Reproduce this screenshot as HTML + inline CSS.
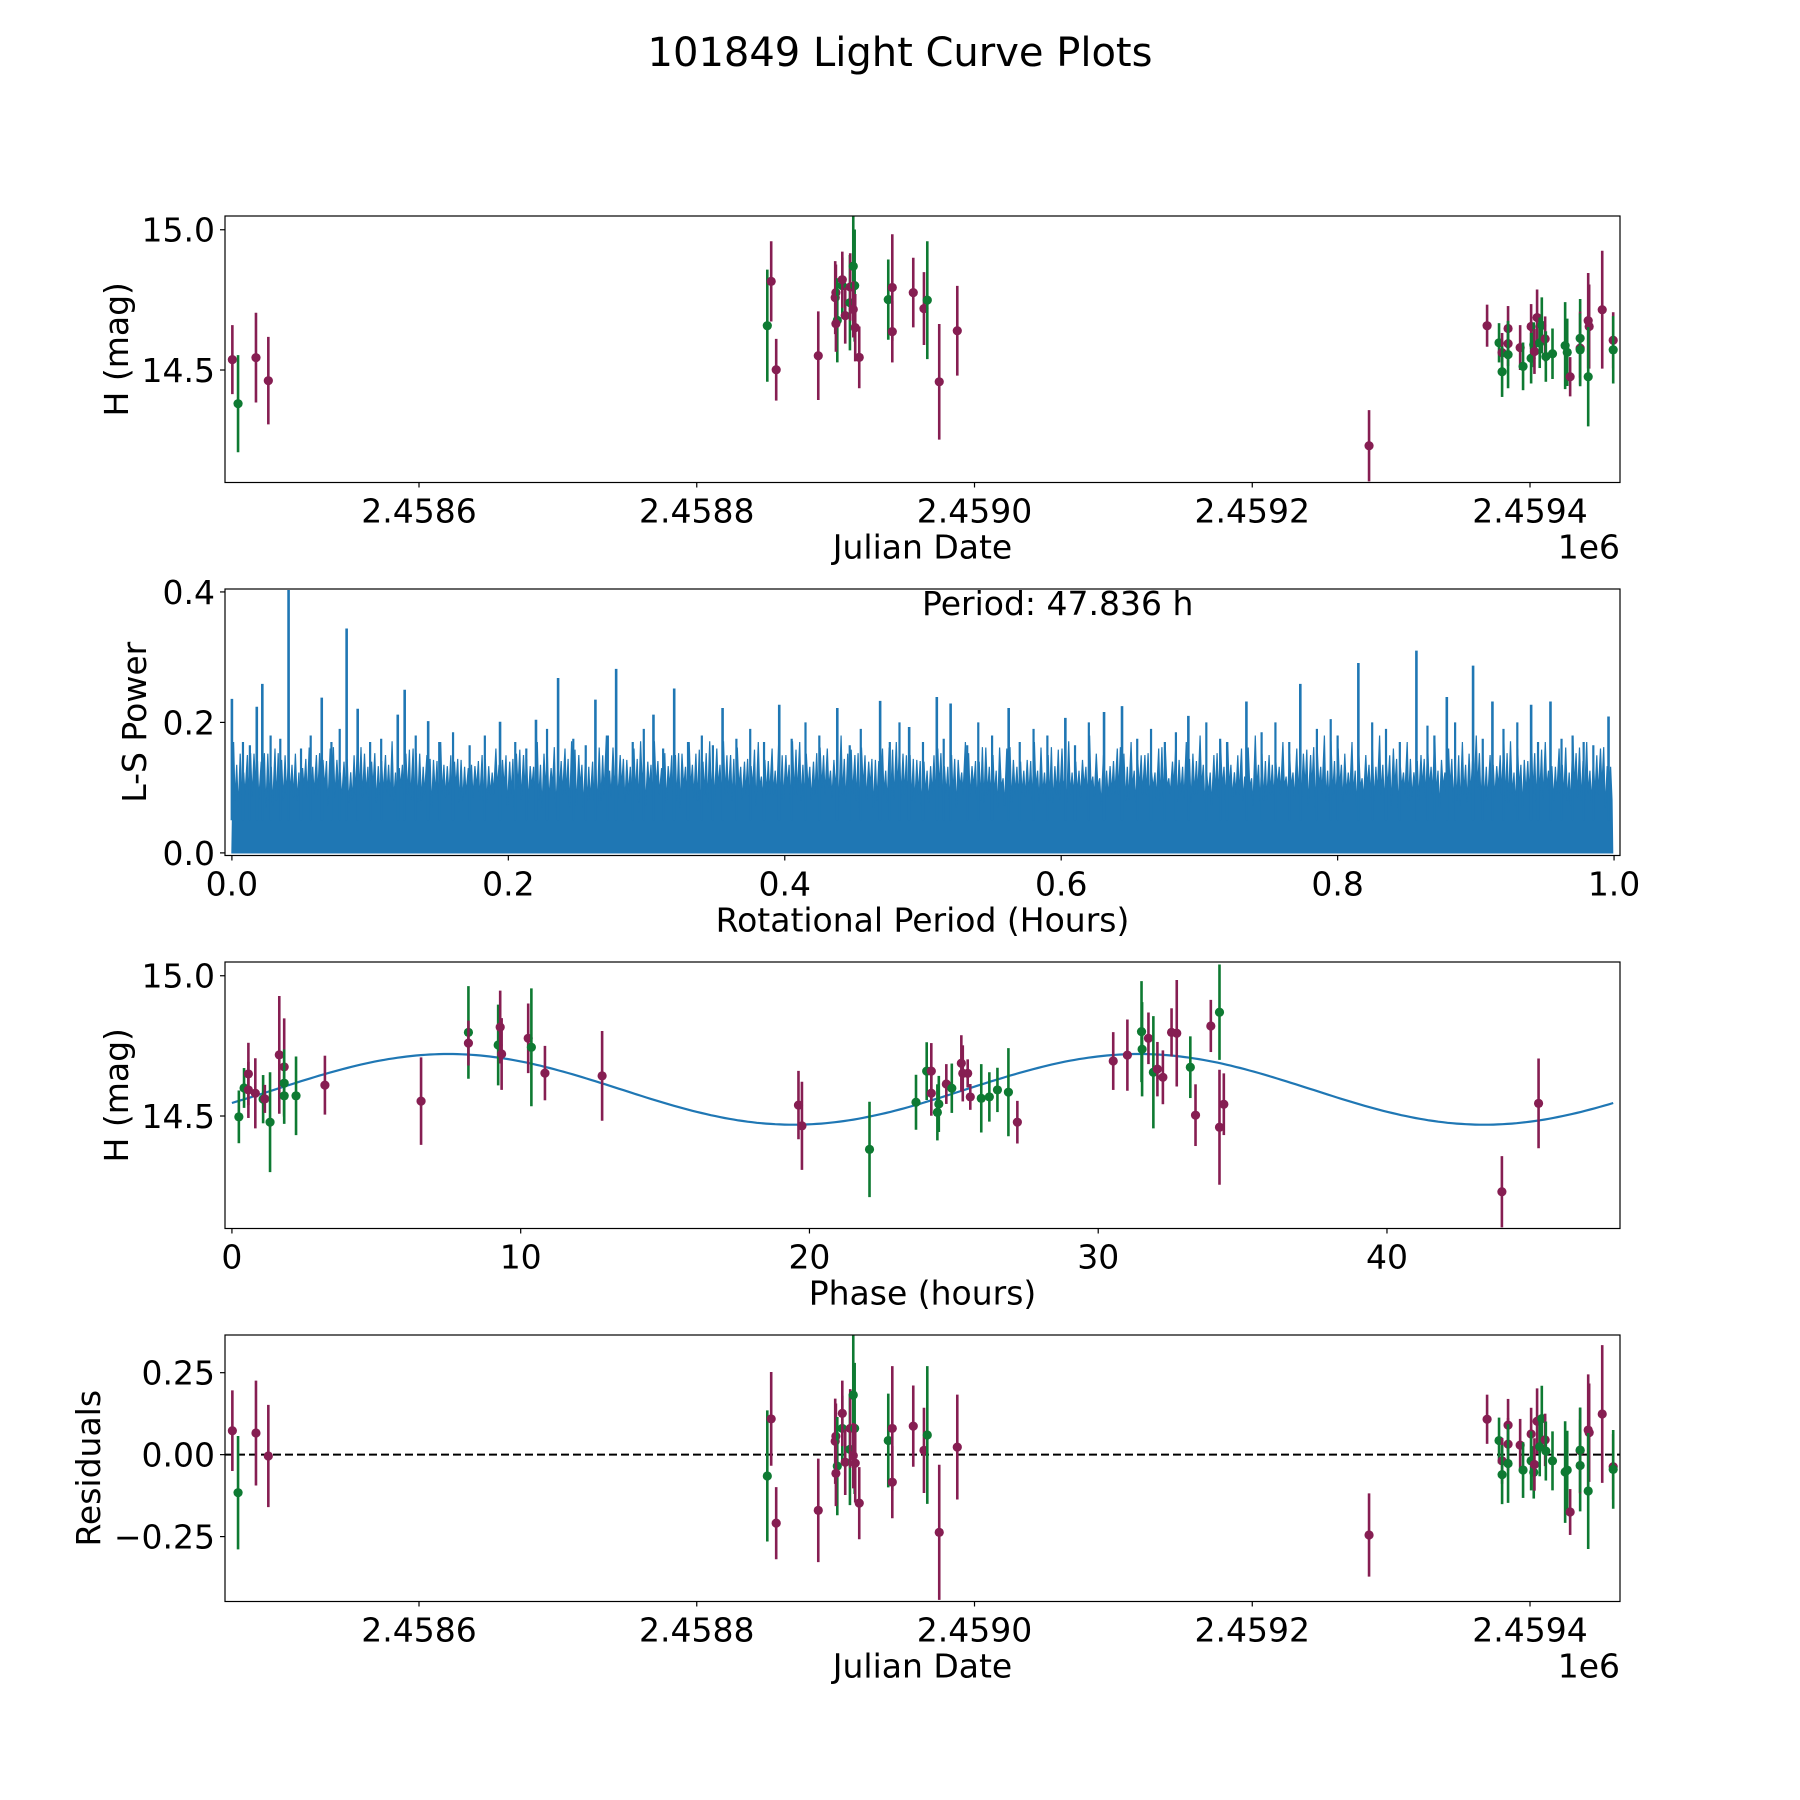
<!DOCTYPE html>
<html><head><meta charset="utf-8"><style>
html,body{margin:0;padding:0;background:#fff}
svg{display:block;font-family:"DejaVu Sans","Liberation Sans",sans-serif}
</style></head><body>
<svg id="fig" width="1800" height="1800" viewBox="0 0 1800 1800" xmlns="http://www.w3.org/2000/svg">
<rect width="1800" height="1800" fill="#fff"/>
<text x="900" y="66" font-size="40" text-anchor="middle">101849 Light Curve Plots</text>
<defs>
<clipPath id="c1"><rect x="225" y="216" width="1395" height="266.5"/></clipPath>
<clipPath id="c2"><rect x="225" y="589" width="1395" height="266.5"/></clipPath>
<clipPath id="c3"><rect x="225" y="962" width="1395" height="266.5"/></clipPath>
<clipPath id="c4"><rect x="225" y="1335" width="1395" height="266.5"/></clipPath>
</defs>
<g id="root"></g>
</svg>
<script>
// ---- light-curve data (panel 1 & residuals) ----
const jd = [2458465.6,2458469.7,2458482.6,2458491.5,
2458850.8,2458853.6,2458857.2,2458887.5,2458899.7,2458900.2,2458901.2,2458900.2,2458904.8,2458904.8,2458906.9,2458910.3,2458910.5,2458912.7,2458913.7,2458912.7,2458914.1,2458917.0,2458937.9,2458940.8,2458940.8,2458955.9,2458963.6,2458966.0,2458974.6,2458987.6,
2459284.1,
2459369.1,2459377.7,2459379.9,2459379.9,2459384.2,2459384.2,2459384.2,2459392.9,2459395.0,2459400.8,2459400.8,2459402.7,2459403.2,2459405.1,2459407.0,2459408.5,2459410.9,2459411.4,2459416.2,2459425.3,2459426.8,2459428.9,2459436.1,2459436.1,2459436.1,2459441.9,2459442.6,2459441.9,2459452.0,2459459.9,2459459.9];
const mag = [14.537,14.380,14.544,14.462,
14.658,14.816,14.501,14.551,14.758,14.776,14.677,14.665,14.801,14.822,14.694,14.740,14.796,14.870,14.801,14.716,14.651,14.545,14.751,14.794,14.637,14.776,14.719,14.749,14.458,14.640,
14.230,
14.658,14.597,14.562,14.494,14.648,14.594,14.555,14.580,14.513,14.655,14.542,14.590,14.566,14.687,14.597,14.659,14.611,14.548,14.558,14.587,14.563,14.476,14.613,14.578,14.572,14.676,14.655,14.476,14.715,14.606,14.572];
const magErr = [0.123,0.173,0.16,0.156,
0.2,0.143,0.11,0.158,0.13,0.1,0.15,0.1,0.1,0.1,0.1,0.17,0.12,0.2,0.2,0.1,0.12,0.11,0.143,0.19,0.11,0.124,0.13,0.21,0.206,0.16,
0.127,
0.075,0.07,0.07,0.09,0.08,0.08,0.12,0.08,0.085,0.08,0.09,0.08,0.08,0.1,0.09,0.1,0.08,0.09,0.09,0.155,0.12,0.07,0.14,0.13,0.13,0.17,0.15,0.177,0.21,0.1,0.12];
const band = ['m','g','m','m',
'g','m','m','m','m','m','g','m','g','m','m','g','m','g','g','m','m','m','g','m','m','m','m','g','m','m',
'm',
'm','g','m','g','m','m','g','m','g','m','g','g','m','m','g','g','m','g','g','g','g','m','g','m','g','m','m','g','m','m','g'];
const resid = [0.073,-0.116,0.066,-0.004,
-0.065,0.109,-0.209,-0.17,0.041,0.056,-0.035,-0.057,0.08,0.126,-0.023,0.016,0.08,0.182,0.08,-0.003,-0.026,-0.148,0.043,0.08,-0.084,0.087,0.013,0.06,-0.237,0.023,
-0.245,
0.108,0.043,-0.019,-0.061,0.09,0.032,-0.027,0.029,-0.047,0.063,-0.019,-0.054,-0.03,0.102,0.024,0.11,0.045,0.011,-0.019,-0.053,-0.047,-0.175,-0.033,0.012,0.014,0.075,0.067,-0.111,0.124,-0.037,-0.045];
// ---- phased data (panel 3) ----
const phase = [0.24,0.42,0.57,0.57,0.81,1.08,1.14,1.32,1.64,1.81,1.81,1.81,2.22,3.22,6.55,8.19,8.19,9.22,9.29,9.34,10.26,10.37,10.84,12.82,
19.62,19.74,22.08,23.69,24.06,24.22,24.22,24.48,24.43,24.74,24.93,25.26,25.31,25.48,25.57,25.95,26.23,26.51,26.89,27.2,
30.52,31.01,31.5,31.52,31.74,31.91,32.05,32.24,32.54,32.72,33.19,33.37,33.9,34.2,34.2,34.35,43.98,45.25];
const phMag = [14.497,14.600,14.650,14.593,14.581,14.56,14.561,14.478,14.718,14.675,14.617,14.572,14.572,14.61,14.553,14.798,14.76,14.753,14.817,14.721,14.777,14.745,14.653,14.643,
14.539,14.465,14.381,14.549,14.66,14.66,14.581,14.543,14.513,14.614,14.599,14.688,14.652,14.652,14.568,14.563,14.568,14.593,14.585,14.478,
14.696,14.717,14.801,14.738,14.777,14.656,14.667,14.638,14.798,14.795,14.674,14.503,14.821,14.87,14.46,14.542,14.23,14.545];
const phErr = [0.094,0.071,0.111,0.1,0.125,0.086,0.05,0.178,0.21,0.173,0.12,0.1,0.14,0.105,0.156,0.165,0.08,0.144,0.13,0.128,0.124,0.21,0.097,0.16,
0.122,0.157,0.17,0.098,0.103,0.1,0.08,0.1,0.1,0.071,0.088,0.1,0.1,0.05,0.046,0.122,0.088,0.079,0.157,0.076,
0.103,0.127,0.18,0.168,0.092,0.2,0.097,0.096,0.086,0.19,0.11,0.11,0.093,0.17,0.205,0.11,0.127,0.16];
const phBand = ['g','g','m','m','m','g','m','g','m','m','g','g','g','m','m','g','m','g','m','m','m','g','m','m',
'm','m','g','g','g','m','m','g','g','m','g','m','m','m','m','g','g','g','g','m',
'm','m','g','g','m','g','m','m','m','m','g','m','m','g','m','m','m','m'];
// model fit parameters
const modelMean = 14.595, modelAmp = 0.126, modelPeak = 7.49, period = 47.836;
// ---- periodogram (panel 2) ----
const spikePeriod = [0.0,0.018,0.022,0.041,0.065,0.083,0.091,0.12,0.125,0.142,0.194,0.22,0.236,0.263,0.278,0.305,0.32,0.355,0.396,0.438,0.469,0.49,0.51,0.52,0.562,0.603,0.631,0.644,0.692,0.734,0.773,0.815,0.857,0.879,0.898,0.912,0.94,0.954,0.996];
const spikePower = [0.236,0.224,0.259,0.403,0.238,0.344,0.221,0.212,0.25,0.202,0.201,0.204,0.268,0.235,0.282,0.212,0.252,0.222,0.227,0.222,0.233,0.193,0.239,0.229,0.222,0.207,0.216,0.225,0.21,0.232,0.259,0.291,0.31,0.239,0.287,0.232,0.227,0.232,0.209];
const midPeriod = [0.008,0.013,0.028,0.035,0.05,0.057,0.072,0.078,0.1,0.108,0.133,0.15,0.16,0.172,0.183,0.205,0.213,0.228,0.247,0.256,0.272,0.29,0.298,0.312,0.33,0.34,0.348,0.365,0.375,0.385,0.405,0.415,0.425,0.447,0.455,0.476,0.483,0.5,0.515,0.532,0.54,0.55,0.57,0.58,0.59,0.61,0.62,0.655,0.665,0.675,0.683,0.705,0.715,0.72,0.745,0.755,0.765,0.785,0.795,0.8,0.825,0.835,0.845,0.865,0.87,0.885,0.905,0.92,0.93,0.945,0.962,0.97,0.978,0.985];
const midPower = [0.17,0.165,0.18,0.175,0.16,0.18,0.17,0.19,0.17,0.175,0.18,0.17,0.185,0.165,0.18,0.17,0.16,0.19,0.175,0.165,0.18,0.17,0.19,0.16,0.17,0.18,0.165,0.175,0.19,0.17,0.175,0.2,0.18,0.165,0.19,0.17,0.2,0.17,0.175,0.165,0.2,0.18,0.17,0.19,0.18,0.165,0.2,0.175,0.19,0.17,0.185,0.2,0.175,0.17,0.185,0.2,0.17,0.19,0.205,0.18,0.2,0.19,0.17,0.195,0.18,0.2,0.175,0.19,0.2,0.17,0.175,0.18,0.17,0.165];
const noiseTop = [0.17,0.15,0.14,0.16,0.15,0.13,0.15,0.16,0.14,0.18,0.14,0.15,0.13,0.16,0.15,0.17,0.14,0.13,0.15,0.16,0.14,0.15,0.17,0.13,0.16,0.15,0.14,0.18,0.15,0.16,0.14,0.13,0.15,0.17,0.14,0.16,0.15,0.14,0.17,0.16,
0.15,0.17,0.14,0.16,0.18,0.15,0.14,0.16,0.17,0.15,0.14,0.16,0.15,0.17,0.14,0.15,0.16,0.14,0.17,0.15,0.16,0.14,0.18,0.15,0.16,0.17,0.15,0.16,0.14,0.17,
0.18,0.15,0.17,0.16,0.18,0.15,0.17,0.16,0.15,0.18,0.16,0.17,0.15,0.18,0.16,0.17,0.15,0.18,0.16,0.17,0.18,0.15,0.17,0.16,0.18,0.17,0.16,0.18,0.17,0.16];
const noiseLow = [0.08,0.09,0.1,0.08,0.09,0.1,0.09,0.08,0.1,0.09,0.1,0.09,0.1,0.08,0.1,0.09,0.1,0.09,0.08,0.1,0.09,0.1,0.08,0.1,0.09,0.1,0.08,0.09,0.1,0.09,0.1,0.09,0.08,0.1,0.09,0.1,0.08,0.09,0.1,0.09,
0.1,0.08,0.09,0.1,0.09,0.08,0.1,0.09,0.1,0.08,0.09,0.1,0.09,0.1,0.08,0.09,0.1,0.09,0.1,0.08,0.1,0.09,0.1,0.08,0.09,0.1,0.09,0.08,0.1,0.09,
0.1,0.09,0.1,0.08,0.1,0.09,0.1,0.09,0.1,0.08,0.1,0.09,0.1,0.09,0.1,0.08,0.1,0.09,0.1,0.09,0.1,0.09,0.08,0.1,0.09,0.1,0.09,0.1,0.09,0.1];
const jdTicks = [2458600,2458800,2459000,2459200,2459400];
const jdTickLabels = ['2.4586','2.4588','2.4590','2.4592','2.4594'];
const magTicks = [14.5,15.0], magTickLabels = ['14.5','15.0'];
const perTicks = [0,0.2,0.4,0.6,0.8,1.0], perTickLabels = ['0.0','0.2','0.4','0.6','0.8','1.0'];
const powTicks = [0,0.2,0.4], powTickLabels = ['0.0','0.2','0.4'];
const phTicks = [0,10,20,30,40], phTickLabels = ['0','10','20','30','40'];
const resTicks = [-0.25,0,0.25], resTickLabels = ['\u22120.25','0.00','0.25'];

const NS='http://www.w3.org/2000/svg';
const root=document.getElementById('root');
const COL={m:'#861e52',g:'#0e7a32'};
function el(tag,attrs,parent){const e=document.createElementNS(NS,tag);for(const k in attrs)e.setAttribute(k,attrs[k]);(parent||root).appendChild(e);return e;}
function lin(d0,d1,p0,p1){return v=>p0+(v-d0)*(p1-p0)/(d1-d0);}
const L=225,R=1620;
const P1={x:lin(2458460.3,2459464.8,L,R),y:lin(14.099,15.049,482.5,216),top:216,bot:482.5};
const P2={x:lin(-0.005,1.0043,L,R),y:lin(-0.004,0.4045,855.5,589),top:589,bot:855.5};
const P3={x:lin(-0.24,48.07,L,R),y:lin(14.099,15.049,1228.5,962),top:962,bot:1228.5};
const P4={x:lin(2458460.3,2459464.8,L,R),y:lin(-0.448,0.365,1601.5,1335),top:1335,bot:1601.5};

function frame(P,name,xt,xl,yt,yl,xlabel,ylabel,ylabX,offset){
  const g=el('g',{});
  
  
  xt.forEach((v,i)=>{const x=P.x(v);
    el('line',{x1:x,x2:x,y1:P.bot,y2:P.bot+5,stroke:'#000','stroke-width':1.2},g);
    const t=el('text',{x:x,y:P.bot+40,'font-size':33,'text-anchor':'middle'},g);t.textContent=xl[i];
    
    });
  yt.forEach((v,i)=>{const y=P.y(v);
    el('line',{x1:L-5,x2:L,y1:y,y2:y,stroke:'#000','stroke-width':1.2},g);
    const t=el('text',{x:L-10,y:y+12,'font-size':33,'text-anchor':'end'},g);t.textContent=yl[i];
    
    });
  const xlab=el('text',{x:(L+R)/2,y:P.bot+76,'font-size':33,'text-anchor':'middle'},g);xlab.textContent=xlabel;
  
  
  const cy=(P.top+P.bot)/2;
  const ylab=el('text',{x:ylabX,y:cy,'font-size':33,'text-anchor':'middle',transform:`rotate(-90 ${ylabX} ${cy})`},g);ylab.textContent=ylabel;
  
  
  if(offset){const o=el('text',{x:R,y:P.bot+76,'font-size':33,'text-anchor':'end'},g);o.textContent=offset;
    
    }
}
function spine(P){const r=el('rect',{x:L,y:P.top,width:R-L,height:P.bot-P.top,fill:'none',stroke:'#000','stroke-width':1.2});
  
  }
function errPoints(P,xs,ys,es,bs,clip,name){
  const g=el('g',{'clip-path':`url(#${clip})`});
  
  
  xs.forEach((xv,i)=>{const x=P.x(xv),c=COL[bs[i]];
    const ln=el('line',{x1:x,x2:x,y1:P.y(ys[i]-es[i]),y2:P.y(ys[i]+es[i]),stroke:c,'stroke-width':2.6},g);
    
    
    const d=el('circle',{cx:x,cy:P.y(ys[i]),r:4.6,fill:c},g);
    
    });
}
// Panel 1
frame(P1,'lightcurve',jdTicks,jdTickLabels,magTicks,magTickLabels,'Julian Date','H (mag)',128,'1e6');
errPoints(P1,jd,mag,magErr,band,'c1','lightcurve-points');
spine(P1);
// Panel 2
frame(P2,'periodogram',perTicks,perTickLabels,powTicks,powTickLabels,'Rotational Period (Hours)','L-S Power',146,null);
{
  const g=el('g',{'clip-path':'url(#c2)'});
  
  
  let pts=[[P2.x(0),P2.y(0)]];
  const n=noiseTop.length;
  for(let i=0;i<n;i++){const p0=i/n*0.999;
    const j=(i*37+11)%n, k=(i*53+7)%n;
    pts.push([P2.x(p0+0.0012),P2.y(noiseTop[i])]);
    pts.push([P2.x(p0+0.0022),P2.y(noiseLow[i])]);
    pts.push([P2.x(p0+0.0035),P2.y(noiseTop[j]*0.9)]);
    pts.push([P2.x(p0+0.0046),P2.y(noiseLow[k]*0.85)]);
    pts.push([P2.x(p0+0.006),P2.y(noiseTop[k]*0.95)]);
    pts.push([P2.x(p0+0.0072),P2.y(noiseLow[j])]);
    pts.push([P2.x(p0+0.0085),P2.y(noiseTop[(i+50)%n]*0.88)]);
    pts.push([P2.x(p0+0.0095),P2.y(noiseLow[(i+30)%n]*0.9)]);}
  pts.push([P2.x(0.999),P2.y(0)]);
  const poly=el('polygon',{points:pts.map(p=>p[0].toFixed(1)+','+p[1].toFixed(1)).join(' '),fill:'#1f77b4',stroke:'#1f77b4','stroke-width':1.2,'stroke-linejoin':'miter'},g);
  
  
  midPeriod.forEach((p,i)=>{const x=P2.x(p);
    const s=el('line',{x1:x,x2:x,y1:P2.y(0.05),y2:P2.y(midPower[i]),stroke:'#1f77b4','stroke-width':2.2},g);
    
    });
  spikePeriod.forEach((p,i)=>{const x=P2.x(p);
    const s=el('line',{x1:x,x2:x,y1:P2.y(0.05),y2:P2.y(spikePower[i]),stroke:'#1f77b4','stroke-width':2.6},g);
    
    });
  const t=el('text',{x:922,y:615,'font-size':33});t.textContent='Period: 47.836 h';
  
  
}
spine(P2);
// Panel 3
frame(P3,'phased',phTicks,phTickLabels,magTicks,magTickLabels,'Phase (hours)','H (mag)',128,null);
{
  let d='';
  for(let i=0;i<=300;i++){const ph=i/300*period;
    const v=modelMean+modelAmp*Math.cos(2*Math.PI*(ph-modelPeak)/(period/2));
    d+=(i?'L':'M')+P3.x(ph).toFixed(1)+','+P3.y(v).toFixed(1);}
  const c=el('path',{d:d,fill:'none',stroke:'#1f77b4','stroke-width':2.2,'clip-path':'url(#c3)'});
  
  
}
errPoints(P3,phase,phMag,phErr,phBand,'c3','phased-points');
spine(P3);
// Panel 4
frame(P4,'residuals',jdTicks,jdTickLabels,resTicks,resTickLabels,'Julian Date','Residuals',100,'1e6');
{
  const z=el('line',{x1:L,x2:R,y1:P4.y(0),y2:P4.y(0),stroke:'#000','stroke-width':2,'stroke-dasharray':'8,4'});
  
  
}
errPoints(P4,jd,resid,magErr,band,'c4','residual-points');
spine(P4);
</script>
</body></html>
